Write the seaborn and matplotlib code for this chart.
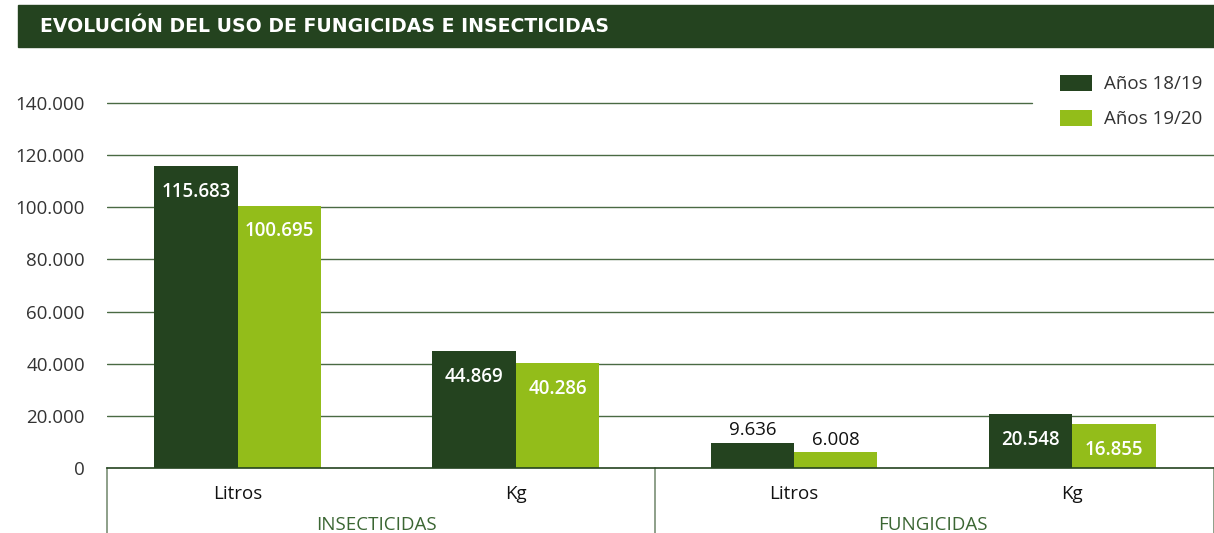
import matplotlib
matplotlib.use("Agg")
import matplotlib.pyplot as plt
from matplotlib.patches import Rectangle
import seaborn as sns
import pandas as pd

# ---- data ----
groups = ["INSECTICIDAS", "INSECTICIDAS", "FUNGICIDAS", "FUNGICIDAS"]
units = ["Litros", "Kg", "Litros", "Kg"]
series_names = ["Años 18/19", "Años 19/20"]
values_1819 = [115683, 44869, 9636, 20548]
values_1920 = [100695, 40286, 6008, 16855]
yticks = [0, 20000, 40000, 60000, 80000, 100000, 120000, 140000]
title = "EVOLUCIÓN DEL USO DE FUNGICIDAS E INSECTICIDAS"

DARK = "#24431F"
LIGHT = "#93BD1A"
GRID = "#4A6A43"
FONT = ["Open Sans", "DejaVu Sans"]

keys = [f"{g}|{u}" for g, u in zip(groups, units)]
rows = []
for k, v in zip(keys, values_1819):
    rows.append({"key": k, "valor": v, "periodo": series_names[0]})
for k, v in zip(keys, values_1920):
    rows.append({"key": k, "valor": v, "periodo": series_names[1]})
df = pd.DataFrame(rows)

sns.set_theme(style="white")
plt.rcParams["font.family"] = FONT

W, H = 1214, 533
fig = plt.figure(figsize=(W / 100, H / 100), dpi=100)
ax = fig.add_axes([107 / W, 65 / H, (1214 - 107) / W, (468 - 77) / H])

sns.barplot(data=df, x="key", y="valor", hue="periodo", order=keys,
            hue_order=series_names, palette=[DARK, LIGHT], width=0.6,
            saturation=1, ax=ax, legend=True, errorbar=None, linewidth=0)

ax.set_xlim(-0.47, 3.51)
ax.set_ylim(0, 150000)
ax.set_yticks(yticks)
ax.set_yticklabels([f"{t:,.0f}".replace(",", ".") for t in yticks],
                   fontsize=13.5, color="#333333")
ax.tick_params(axis="y", length=0, pad=16)
ax.tick_params(axis="x", length=0, pad=12)
ax.set_xticks(range(len(units)))
ax.set_xticklabels(units, fontsize=13.5, color="#111111")
ax.set_xlabel("")
ax.set_ylabel("")
for s in ["top", "right", "left"]:
    ax.spines[s].set_visible(False)
ax.spines["bottom"].set_color(DARK)
ax.spines["bottom"].set_linewidth(1.2)

# gridlines
for t in yticks[1:]:
    xmax = (1032 - 107) / (1214 - 107) if t == yticks[-1] else 1.0
    ax.axhline(t, xmin=0, xmax=xmax, color=GRID, lw=1.0, zorder=0)

# bar labels
for cont in ax.containers:
    for bar in cont:
        h = bar.get_height()
        txt = f"{h:,.0f}".replace(",", ".")
        cx = bar.get_x() + bar.get_width() / 2
        if h > 15000:
            ax.annotate(txt, (cx, h), xytext=(0, -18.5), textcoords="offset points",
                        ha="center", va="center", color="white", fontsize=13.5,
                        fontweight="semibold")
        else:
            ax.annotate(txt, (cx, h), xytext=(0, 9), textcoords="offset points",
                        ha="center", va="center", color="#111111", fontsize=13.5,
                        fontweight="medium")

# group separators and labels below axis
sep_x = [-0.47, 1.5, 3.51]
for x in sep_x:
    ax.plot([x, x], [0, -0.166], transform=ax.get_xaxis_transform(),
            color="#7A8F75", lw=1.2, clip_on=False)
seen = []
for i, g in enumerate(groups):
    if g in seen:
        continue
    seen.append(g)
    idx = [j for j, gg in enumerate(groups) if gg == g]
    cxg = (min(idx) + max(idx)) / 2
    ax.text(cxg, -0.145, g, transform=ax.get_xaxis_transform(), ha="center",
            va="center", fontsize=13.5, color="#3B6633")

# legend
handles, labels = ax.get_legend_handles_labels()
leg = fig.legend(handles, labels, loc="upper left", bbox_to_anchor=(1060 / W, 1 - 75 / H),
                 frameon=False, fontsize=13.5, handlelength=1.7, handleheight=0.9,
                 labelspacing=0.9, handletextpad=0.62, borderpad=0, borderaxespad=0)
ax.get_legend().remove()
for t in leg.get_texts():
    t.set_color("#333333")

# title banner
fig.patches.append(Rectangle((18 / W, 1 - 47 / H), 1 - 18 / W, 42 / H,
                             transform=fig.transFigure, color=DARK, zorder=0))
fig.text(40 / W, 1 - 26 / H, title, ha="left", va="center", color="white",
         fontsize=13.6, fontweight="bold", family=["DejaVu Sans"])

fig.savefig("out.png", dpi=100)
